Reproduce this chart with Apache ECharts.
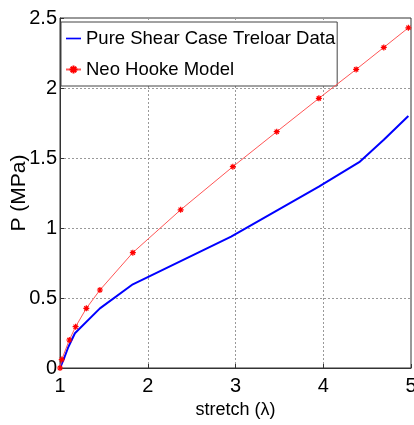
<!DOCTYPE html>
<html><head><meta charset="utf-8">
<script src="https://cdn.jsdelivr.net/npm/echarts@6/dist/echarts.min.js"></script>
<style>html,body{margin:0;padding:0;background:#fff}#c{width:414px;height:425px}</style>
</head><body><div id="c"></div>
<script>
var xTicks = [1, 2, 3, 4, 5];
var yTicks = [0, 0.5, 1, 1.5, 2, 2.5];
var treloarX = [1.0, 1.05, 1.095, 1.17, 1.455, 1.83, 2.95, 3.95, 4.41, 4.69, 4.97];
var treloarY = [0.0, 0.075, 0.15, 0.248, 0.426, 0.598, 0.938, 1.295, 1.47, 1.63, 1.80];
var neoX = [1.0, 1.02, 1.106, 1.178, 1.30, 1.455, 1.83, 2.375, 2.97, 3.47, 3.95, 4.375, 4.69, 4.97];
var neoY = [0.0, 0.06, 0.2, 0.295, 0.426, 0.557, 0.824, 1.13, 1.438, 1.688, 1.926, 2.133, 2.29, 2.43];

function pairs(xs, ys){ return xs.map(function(x,i){ return [x, ys[i]]; }); }
var star = 'path://M5,0L5,10M0,5L10,5M1.5,1.5L8.5,8.5M8.5,1.5L1.5,8.5';
var font = '"Liberation Sans", Arial, sans-serif';
var chart = echarts.init(document.getElementById('c'));
chart.setOption({
  animation: false,
  grid: {left: 60, right: 3, top: 18, bottom: 57, containLabel: false, outerBoundsMode: 'none',
         show: true, borderColor: '#333', borderWidth: 1, backgroundColor: 'transparent'},
  legend: {
    orient: 'vertical', left: 61, top: 22,
    padding: [6, 2, 6, 4], itemGap: 10,
    itemWidth: 15, itemHeight: 10,
    borderColor: '#444', borderWidth: 1, backgroundColor: '#fff',
    textStyle: {fontFamily: font, fontSize: 18.5, lineHeight: 21, color: '#000'},
    data: [{name: 'Pure Shear Case Treloar Data', icon: 'path://M0,4L18,4L18,6L0,6Z'}, {name: 'Neo Hooke Model'}]
  },
  xAxis: {
    type: 'value', min: 1, max: 5, interval: 1,
    name: 'stretch (λ)', nameLocation: 'middle', nameGap: 33, nameMoveOverlap: false,
    nameTextStyle: {fontFamily: font, fontSize: 18, color: '#000'},
    axisLine: {show: true, lineStyle: {color: '#333'}},
    axisTick: {show: true, inside: true, length: 4, lineStyle: {color: '#333'}},
    axisLabel: {fontFamily: font, fontSize: 20, color: '#000', margin: 8},
    splitLine: {show: true, lineStyle: {color: '#999', type: [2, 2], width: 1}}
  },
  yAxis: {
    type: 'value', min: 0, max: 2.5, interval: 0.5,
    name: 'P (MPa)', nameLocation: 'middle', nameGap: 30, nameRotate: 90, nameMoveOverlap: false,
    nameTextStyle: {fontFamily: font, fontSize: 21, color: '#000'},
    axisLine: {show: true, lineStyle: {color: '#333'}},
    axisTick: {show: true, inside: true, length: 4, lineStyle: {color: '#333'}},
    axisLabel: {fontFamily: font, fontSize: 20, color: '#000', margin: 3},
    splitLine: {show: true, lineStyle: {color: '#999', type: [2, 2], width: 1}}
  },
  series: [
    {name: 'Pure Shear Case Treloar Data', type: 'line', data: pairs(treloarX, treloarY),
     showSymbol: false, symbol: 'none', lineStyle: {color: '#0000ff', width: 2}, itemStyle: {color: '#0000ff'}, z: 3},
    {name: 'Neo Hooke Model', type: 'line', data: pairs(neoX, neoY),
     symbol: star, symbolSize: 6, lineStyle: {color: '#ff5555', width: 1},
     itemStyle: {color: '#ff0000', borderColor: '#ff0000', borderWidth: 1.2}, z: 4}
  ]
});
</script></body></html>
